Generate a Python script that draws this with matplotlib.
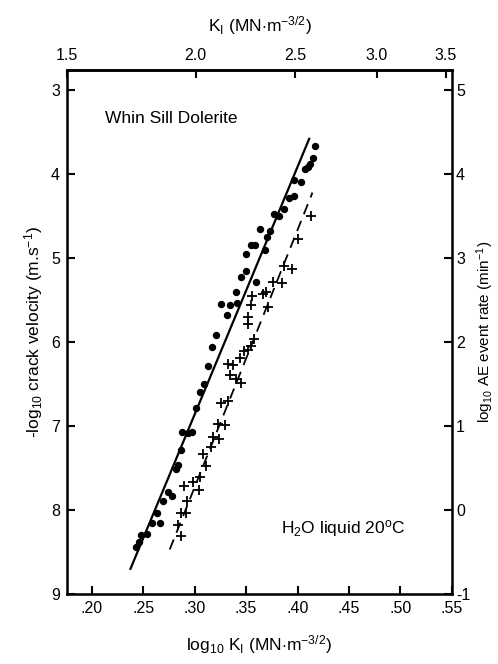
import numpy as np
import matplotlib
matplotlib.use('Agg')
import matplotlib.pyplot as plt
from matplotlib.ticker import FuncFormatter

plt.rcParams['font.family'] = ['Liberation Sans', 'DejaVu Sans']
plt.rcParams['mathtext.fontset'] = 'custom'
plt.rcParams['mathtext.rm'] = 'Liberation Sans'
plt.rcParams['mathtext.it'] = 'Liberation Sans'

# crack velocity data (dots): log10 K_I, -log10 velocity
vel_logk = [0.243, 0.246, 0.248, 0.254, 0.259, 0.263, 0.266, 0.269, 0.274, 0.278,
            0.282, 0.284, 0.287, 0.288, 0.294, 0.297, 0.301, 0.305, 0.309, 0.313,
            0.317, 0.321, 0.326, 0.331, 0.334, 0.340, 0.341, 0.345, 0.350, 0.350,
            0.355, 0.359, 0.360, 0.364, 0.368, 0.370, 0.373, 0.377, 0.382, 0.387,
            0.392, 0.397, 0.397, 0.403, 0.407, 0.410, 0.412, 0.415, 0.417]
vel_y = [8.44, 8.38, 8.30, 8.28, 8.15, 8.03, 8.15, 7.89, 7.78, 7.83,
         7.51, 7.46, 7.28, 7.07, 7.08, 7.07, 6.78, 6.60, 6.50, 6.29,
         6.06, 5.91, 5.55, 5.68, 5.56, 5.40, 5.53, 5.23, 4.95, 5.15,
         4.84, 4.84, 5.29, 4.65, 4.90, 4.75, 4.68, 4.47, 4.50, 4.42,
         4.29, 4.26, 4.07, 4.09, 3.94, 3.92, 3.88, 3.81, 3.66]

# acoustic emission data (crosses): log10 K_I, log10 AE event rate
ae_logk = [0.287, 0.284, 0.287, 0.292, 0.293, 0.290, 0.298, 0.304, 0.305, 0.311,
           0.308, 0.316, 0.318, 0.324, 0.323, 0.330, 0.326, 0.332, 0.332, 0.337,
           0.334, 0.340, 0.345, 0.344, 0.348, 0.352, 0.355, 0.358, 0.352, 0.352,
           0.355, 0.356, 0.366, 0.369, 0.371, 0.376, 0.385, 0.387, 0.395, 0.400,
           0.413]
ae_rate = [-0.31, -0.18, -0.04, -0.04, 0.11, 0.29, 0.33, 0.24, 0.39, 0.52,
           0.67, 0.75, 0.87, 0.85, 1.03, 1.01, 1.28, 1.30, 1.74, 1.73,
           1.61, 1.56, 1.51, 1.81, 1.89, 1.91, 1.95, 2.04, 2.22, 2.30,
           2.44, 2.55, 2.57, 2.60, 2.42, 2.72, 2.70, 2.91, 2.87, 3.23,
           3.50]

# fitted lines (end points)
vel_fit_x = [0.2377, 0.4113]
vel_fit_y = [8.70, 3.58]
ae_fit_x = [0.2758, 0.4145]
ae_fit_y = [-0.47, 3.78]

xticks = [0.20, 0.25, 0.30, 0.35, 0.40, 0.45, 0.50, 0.55]
ki_ticks = [1.5, 2.0, 2.5, 3.0, 3.5]

fig = plt.figure(figsize=(4.98, 6.64), dpi=100)
ax = fig.add_axes([0.1345, 0.1054, 0.773, 0.7892])
ax2 = ax.twinx()

ax.plot(vel_logk, vel_y, 'o', color='black', markersize=4.3)
ax.plot(vel_fit_x, vel_fit_y, '-', color='black', linewidth=1.6)
ax2.plot(ae_logk, ae_rate, '+', color='black', markersize=7, markeredgewidth=1.3)
ax2.plot(ae_fit_x, ae_fit_y, '--', color='black', linewidth=1.3, dashes=(6, 4))

ax.set_xlim(0.176, 0.55)
ax.set_ylim(9, 2.76)
ax2.set_ylim(-1, 5.24)

ax.set_xticks(xticks)
ax.xaxis.set_major_formatter(FuncFormatter(lambda v, p: ('%.2f' % v)[1:]))
ax.set_yticks(range(3, 10))
ax2.set_yticks(range(-1, 6))
ax2.yaxis.set_major_formatter(FuncFormatter(lambda v, p: '%d' % v if v >= 0 else '-%d' % abs(v)))

top = ax.secondary_xaxis('top', functions=(lambda x: 10 ** x, lambda k: np.log10(k)))
top.set_xticks(ki_ticks)
top.set_xticklabels(['%.1f' % k for k in ki_ticks])

ax.tick_params(direction='in', length=6, width=1.5, labelsize=11.5, pad=5)
ax2.tick_params(direction='in', length=6, width=1.5, labelsize=11.5, pad=3)
top.tick_params(direction='in', length=6, width=1.5, labelsize=11.5, pad=5)
for s in ax.spines.values():
    s.set_linewidth(1.8)
top.spines['top'].set_linewidth(1.8)

ax.set_xlabel(r'log$_{10}$ K$_{\rm I}$ (MN$\cdot$m$^{-3/2}$)', fontsize=12.5, labelpad=12)
ax.set_ylabel(r'-log$_{10}$ crack velocity (m.s$^{-1}$)', fontsize=12.5, labelpad=4)
ax2.set_ylabel(r'log$_{10}$ AE event rate (min$^{-1}$)', fontsize=11)
ax2.yaxis.set_label_coords(1.058, 0.5)
top.set_xlabel(r'K$_{\rm I}$ (MN$\cdot$m$^{-3/2}$)', fontsize=12.5, labelpad=12)

ax.text(0.10, 0.908, 'Whin Sill Dolerite', transform=ax.transAxes, fontsize=12.5,
        va='center', ha='left')
ax.text(0.555, 0.125, r'H$_2$O liquid 20$^{\rm o}$C', transform=ax.transAxes,
        fontsize=12.5, va='center', ha='left')

fig.savefig('out.png', dpi=100)
